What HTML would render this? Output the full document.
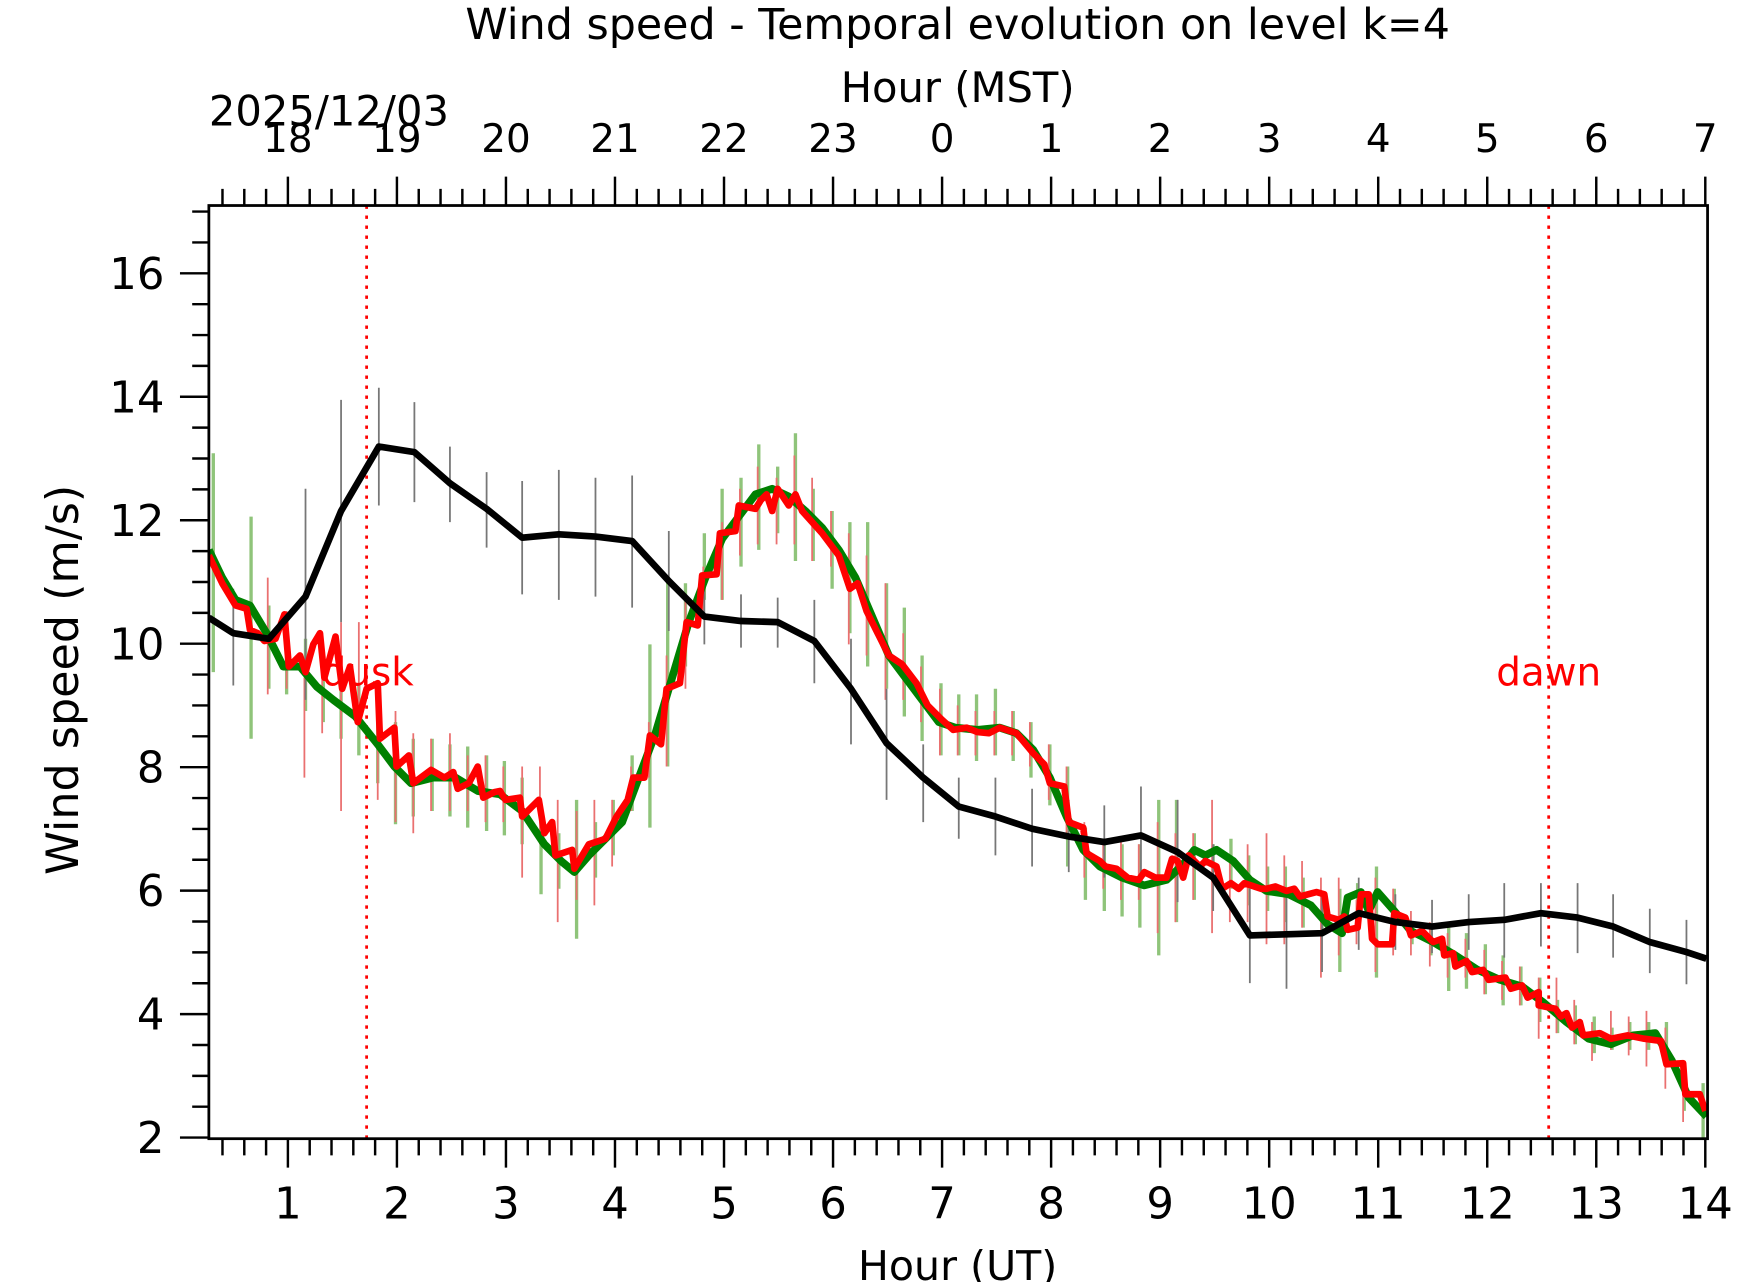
<!DOCTYPE html>
<html><head><meta charset="utf-8"><style>html,body{margin:0;padding:0;background:#fff}svg{display:block}text{font-family:"DejaVu Sans","Liberation Sans",sans-serif}</style></head>
<body>
<svg width="1742" height="1282" viewBox="0 0 1742 1282" xmlns="http://www.w3.org/2000/svg">
<g transform="scale(1.11097,1.11092)">
<defs><clipPath id="c"><rect x="188" y="185" width="1349" height="840"/></clipPath></defs>
<text x="862" y="35" font-size="38.5" text-anchor="middle">Wind speed - Temporal evolution on level k=4</text>
<text x="862" y="92" font-size="37.5" text-anchor="middle">Hour (MST)</text>
<text x="188" y="113" font-size="37.5">2025/12/03</text>
<text x="862" y="1152" font-size="37" text-anchor="middle">Hour (UT)</text>
<text transform="translate(70,612) rotate(-90)" font-size="40" text-anchor="middle">Wind speed (m/s)</text>
<g id="ticks" stroke="#000" stroke-width="2.2" fill="none">
<path id="tk" d=""/>
</g>
<g clip-path="url(#c)">
<g stroke="#8fc47a" stroke-width="3" id="gb"></g>
<g stroke="#ea7070" stroke-width="1.6" id="rb"></g>
<g stroke="#777" stroke-width="1.6" id="kb"></g>
<line x1="330" y1="185" x2="330" y2="1025" stroke="red" stroke-width="2.5" stroke-dasharray="3,6"/>
<line x1="1394" y1="185" x2="1394" y2="1025" stroke="red" stroke-width="2.5" stroke-dasharray="3,6"/>
<polyline fill="none" stroke="#008000" stroke-width="7" stroke-linejoin="round" points="188,495 200,520 212,540 225,545 240,570 255,600 270,600 285,618 300,630 320,645 340,670 355,690 370,705 390,700 410,700 430,712 450,715 470,730 490,760 505,775 517,785 530,770 545,755 560,740 575,700 590,660 605,610 620,560 635,520 650,485 665,465 680,445 695,440 710,447 725,460 740,475 755,495 770,520 785,555 800,590 815,610 830,630 845,650 860,655 880,657 900,655 915,660 930,675 945,700 960,735 975,765 990,780 1010,790 1030,797 1050,792 1065,778 1075,765 1085,770 1095,765 1110,775 1125,792 1140,802 1160,805 1180,815 1195,832 1208,840 1213,808 1225,803 1232,820 1240,803 1255,820 1270,838 1290,848 1310,860 1330,873 1350,882 1370,888 1390,903 1410,920 1430,935 1450,940 1470,932 1490,930 1505,955 1520,988 1536,1005"/>
<polyline fill="none" stroke="#ff0000" stroke-width="6" stroke-linejoin="round" points="188,500 200,525 212,545 222,548 225,567 232,570 238,577 248,575 256,553 260,600 270,590 275,605 282,580 288,570 292,610 302,573 308,620 315,600 322,650 330,620 340,615 342,665 355,655 357,690 368,680 372,705 388,693 400,700 408,695 412,710 422,705 430,690 435,718 445,713 450,712 455,720 468,718 470,735 485,720 490,750 497,740 500,770 515,765 517,782 530,760 545,755 555,735 565,720 570,700 580,700 585,662 595,670 600,620 612,615 618,560 628,563 632,518 645,517 648,480 662,478 665,455 680,458 685,450 690,445 695,460 700,440 710,455 716,445 722,460 740,480 755,500 765,530 772,525 780,550 790,570 800,590 812,598 825,615 835,635 848,648 858,657 870,655 880,659 890,660 900,655 915,660 930,678 940,688 945,705 958,708 962,740 975,745 978,768 990,775 995,780 1005,782 1015,790 1025,792 1030,785 1040,790 1050,790 1055,773 1060,775 1065,790 1070,770 1080,780 1085,775 1095,780 1100,800 1108,795 1115,800 1120,795 1135,800 1140,800 1148,798 1158,802 1165,800 1170,807 1185,803 1192,805 1195,825 1205,828 1210,825 1213,837 1222,835 1225,805 1232,805 1235,845 1240,850 1253,850 1255,822 1265,826 1270,842 1280,838 1290,848 1298,845 1300,860 1308,858 1310,870 1320,865 1325,875 1335,873 1340,882 1355,880 1360,890 1370,887 1375,898 1385,893 1385,905 1400,908 1405,915 1410,912 1415,925 1422,920 1425,932 1440,930 1450,935 1465,932 1480,935 1495,937 1500,958 1515,957 1517,985 1530,985 1535,1000"/>
<polyline fill="none" stroke="#000" stroke-width="6" stroke-linejoin="round" points="188,556 210,570 242,575 275,537 307,460 341,402 373,407 405,435 438,458 470,484 503,481 536,483 569,487 602,523 634,555 667,559 700,560 733,577 766,620 798,669 831,700 863,726 896,735 929,746 962,753 994,758 1027,752 1060,767 1092,790 1125,842 1158,841 1190,840 1223,822 1256,830 1289,834 1322,830 1354,828 1387,822 1420,826 1452,834 1485,848 1518,857 1536,863"/>
</g>
<text x="331" y="617" font-size="35" fill="red" text-anchor="middle">dusk</text>
<text x="1394" y="617" font-size="35" fill="red" text-anchor="middle">dawn</text>
<rect x="188" y="185" width="1349" height="840" fill="none" stroke="#000" stroke-width="2.5"/>
<g id="lbl"></g>
</g>
</svg>
<script>
var NS="http://www.w3.org/2000/svg";
function X(h){return 161+98.14*h;}function Y(v){return 1024-(v-2)*55.57;}
var d="";
for(var i=2;i<=70;i++){var h=i*0.2,x=X(h);if(x<188||x>1538)continue;var maj=(i%5==0);var L=maj?26:15;d+="M"+x+" 1025v"+L+"M"+x+" 185v-"+L;}
for(var v=2;v<=17.01;v+=0.5){var y=Y(v);var maj=Math.abs(v-Math.round(v/2)*2)<0.01;d+="M188 "+y+"h-"+(maj?26:15);}
document.getElementById("tk").setAttribute("d",d);
var g=document.getElementById("lbl");
function T(x,y,s,fs,a){var t=document.createElementNS(NS,"text");t.setAttribute("x",x);t.setAttribute("y",y);t.setAttribute("font-size",fs);t.setAttribute("text-anchor",a||"middle");t.textContent=s;g.appendChild(t);}
for(var h=1;h<=14;h++){T(X(h),1097,h,39);T(X(h),137,(h+17)%24,35);}
for(var v=2;v<=16;v+=2){T(148,Y(v)+14,v,39,"end");}
function bars(id,arr){var e=document.getElementById(id),s="";for(var i=0;i<arr.length;i+=3)s+="M"+arr[i]+" "+arr[i+1]+"V"+arr[i+2];var p=document.createElementNS(NS,"path");p.setAttribute("d",s);e.appendChild(p);}
bars("gb",[192,408,605,226,465,665,242,545,620,258,575,625,275,575,640,291,600,650,307,600,665,323,615,680,340,640,705,356,650,742,372,665,735,389,665,730,405,670,735,421,672,745,438,680,748,454,685,752,470,700,760,487,730,805,503,750,800,519,720,845,536,740,790,552,720,770,569,680,730,585,580,745,601,520,690,617,525,600,634,480,540,650,440,540,667,430,510,683,400,495,700,420,480,716,390,505,732,440,505,749,460,530,765,470,570,781,470,600,798,525,620,814,547,645,830,590,667,847,615,680,863,625,680,879,625,685,896,620,680,912,640,685,928,650,700,945,670,725,961,690,780,977,745,810,994,760,820,1010,760,825,1026,760,835,1043,720,860,1059,720,830,1075,750,810,1092,760,785,1108,755,800,1124,770,815,1141,780,820,1157,780,830,1173,790,835,1190,808,840,1206,800,875,1222,795,830,1239,780,880,1255,800,835,1271,830,850,1288,835,860,1304,835,892,1320,840,890,1337,850,895,1353,860,905,1369,870,905,1386,880,920,1402,900,930,1418,905,940,1435,915,948,1451,925,945,1467,920,945,1484,920,945,1500,920,960,1516,960,1000,1533,975,1025]);
bars("rb",[241,520,625,258,550,620,274,610,700,290,570,660,307,560,730,323,560,650,340,620,720,356,640,740,372,660,750,388,665,730,405,660,730,421,680,730,437,680,740,453,690,740,470,690,790,486,690,760,502,720,830,519,730,810,535,720,815,551,720,780,568,690,730,584,650,700,600,590,690,617,540,620,633,510,550,650,470,540,666,440,500,682,420,490,699,430,490,715,410,490,731,430,505,748,460,510,764,480,580,780,500,590,797,525,630,813,570,630,829,600,650,846,620,680,862,635,680,878,640,680,895,640,680,911,640,680,927,650,690,944,670,720,960,690,750,976,740,790,993,755,800,1009,755,810,1025,760,810,1042,740,840,1058,750,830,1074,750,810,1091,720,840,1107,770,830,1123,760,830,1140,750,850,1156,770,850,1172,775,835,1189,790,880,1205,790,860,1221,810,850,1238,790,875,1254,800,860,1270,820,860,1287,830,870,1303,840,880,1319,845,880,1336,855,895,1352,865,900,1368,870,905,1385,880,935,1401,880,930,1417,900,940,1433,920,955,1450,910,945,1466,915,950,1482,910,960,1499,925,980,1515,960,1010]);
bars("kb",[210,530,617,275,440,630,307,360,560,341,349,455,373,362,452,405,402,470,438,425,493,470,433,535,503,423,540,536,430,537,569,428,547,602,478,568,634,530,580,667,535,583,700,538,583,733,540,615,766,575,670,798,620,720,831,670,740,863,700,755,896,700,770,929,710,780,962,720,785,994,725,790,1027,708,795,1060,720,812,1092,760,820,1125,800,885,1158,800,890,1190,805,875,1223,790,855,1256,805,855,1289,810,858,1322,805,855,1354,795,862,1387,795,852,1420,795,858,1452,805,862,1485,818,876,1518,828,886]);
</script>
</body></html>
